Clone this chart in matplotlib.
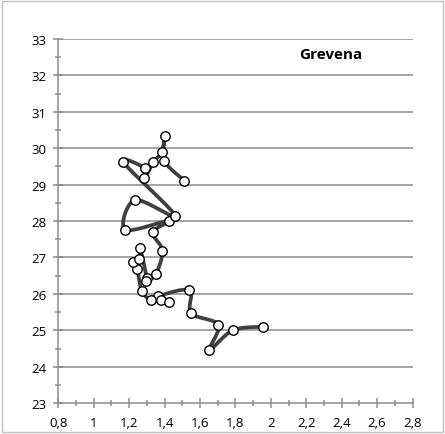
import numpy as np
import matplotlib
matplotlib.use("Agg")
import matplotlib.pyplot as plt
from matplotlib.ticker import MultipleLocator, FuncFormatter
from matplotlib.patches import Rectangle

plt.rcParams['font.family'] = ['Open Sans', 'DejaVu Sans']

title = "Grevena"
x_vals = [1.955, 1.785, 1.653, 1.704, 1.550, 1.540, 1.362, 1.380, 1.425, 1.324,
          1.271, 1.246, 1.224, 1.258, 1.262, 1.299, 1.294, 1.350, 1.388, 1.333,
          1.425, 1.177, 1.233, 1.459, 1.167, 1.290, 1.286, 1.337, 1.384, 1.403,
          1.399, 1.512]
y_vals = [25.10, 25.00, 24.46, 25.15, 25.47, 26.10, 25.93, 25.84, 25.79, 25.84,
          26.09, 26.68, 26.88, 26.96, 27.25, 26.45, 26.36, 26.54, 27.19, 27.69,
          28.01, 27.76, 28.58, 28.15, 29.62, 29.45, 29.17, 29.62, 29.89, 30.33,
          29.66, 29.11]
x_ticks = [0.8, 1.0, 1.2, 1.4, 1.6, 1.8, 2.0, 2.2, 2.4, 2.6, 2.8]
y_ticks = [23, 24, 25, 26, 27, 28, 29, 30, 31, 32, 33]


def smooth(xs, ys, n=20):
    p = np.column_stack([xs, ys])
    p = np.vstack([p[0], p, p[-1]])
    out = []
    for i in range(1, len(p) - 2):
        p0, p1, p2, p3 = p[i - 1], p[i], p[i + 1], p[i + 2]
        c1 = p1 + (p2 - p0) / 6.0
        c2 = p2 - (p3 - p1) / 6.0
        t = np.linspace(0, 1, n)[:, None]
        seg = ((1 - t) ** 3) * p1 + 3 * ((1 - t) ** 2) * t * c1 + 3 * (1 - t) * t ** 2 * c2 + t ** 3 * p2
        out.append(seg)
    out = np.vstack(out)
    return out[:, 0], out[:, 1]


fig = plt.figure(figsize=(4.45, 4.35), dpi=100)
fig.patches.append(Rectangle((0.004, 0.004), 0.992, 0.992, transform=fig.transFigure,
                             fill=False, edgecolor='#bfbfbf', linewidth=1.0))
ax = fig.add_axes([0.131, 0.071, 0.796, 0.837])

grid_c = '#8c8c8c'
for yv in y_ticks[1:]:
    ax.axhline(yv, color=grid_c, linewidth=1.1, zorder=1)

sx, sy = smooth(x_vals, y_vals)
ax.plot(sx, sy, color='#404040', linewidth=2.7, zorder=2, solid_capstyle='round')
ax.plot(x_vals, y_vals, linestyle='none', marker='o', markersize=6.8,
        markerfacecolor='white', markeredgecolor='black', markeredgewidth=1.0, zorder=3)

ax.set_xlim(0.8, 2.8)
ax.set_ylim(23, 33)
ax.set_xticks(x_ticks)
ax.set_yticks(y_ticks)
ax.xaxis.set_minor_locator(MultipleLocator(0.1))
ax.yaxis.set_minor_locator(MultipleLocator(0.5))

def fmt(v, pos):
    s = ('%.1f' % v).rstrip('0').rstrip('.')
    return s.replace('.', ',')

ax.xaxis.set_major_formatter(FuncFormatter(fmt))
ax.yaxis.set_major_formatter(FuncFormatter(lambda v, p: '%d' % round(v)))

for s in ['top', 'right']:
    ax.spines[s].set_visible(False)
for s in ['left', 'bottom']:
    ax.spines[s].set_color(grid_c)
    ax.spines[s].set_linewidth(1.1)

ax.tick_params(which='major', direction='inout', length=7, width=1.1, color=grid_c,
               labelsize=9.5, labelcolor='black', pad=2)
ax.tick_params(which='minor', direction='inout', length=5, width=1.1, color=grid_c)
ax.tick_params(axis='x', pad=6)
ax.tick_params(axis='y', pad=5)
ax.set_facecolor('none')

ax.text(0.77, 0.96, title, transform=ax.transAxes, ha='center', va='center',
        fontsize=11, fontweight='bold', color='black')

fig.savefig('out.png', dpi=100)
